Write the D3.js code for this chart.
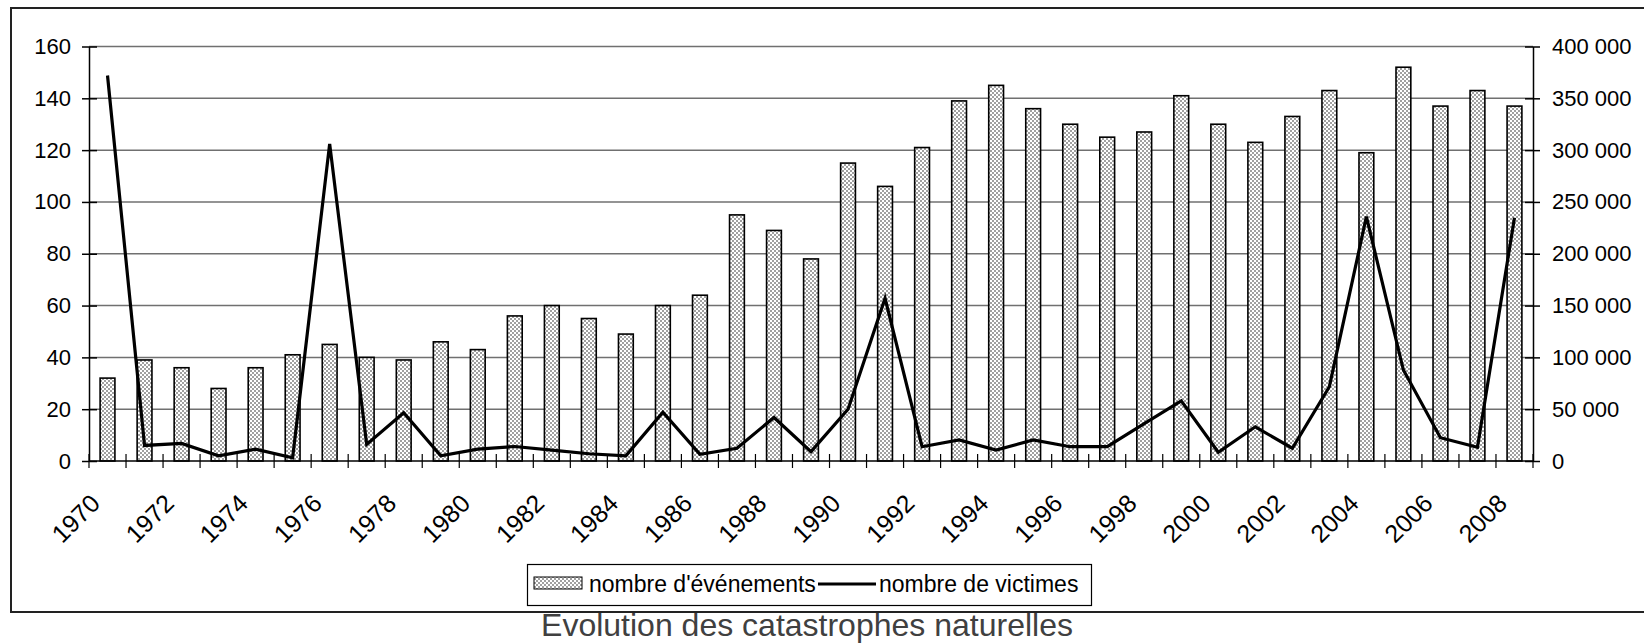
<!DOCTYPE html>
<html>
<head>
<meta charset="utf-8">
<script src="https://cdn.jsdelivr.net/npm/d3@7"></script>
<style>
  body { margin: 0; background: #fff; }
  svg { display: block; font-family: "Liberation Sans", Arial, sans-serif; }
</style>
</head>
<body>
<div id="chart"></div>
<script>
// Data
const years = d3.range(1970, 2009);
const events = [32, 39, 36, 28, 36, 41, 45, 40, 39, 46,
                43, 56, 60, 55, 49, 60, 64, 95, 89, 78,
                115, 106, 121, 139, 145, 136, 130, 125, 127, 141,
                130, 123, 133, 143, 119, 152, 137, 143, 137];
const victims = [372000, 15000, 17000, 5000, 11500, 3200, 306000, 16000, 46500, 5000,
                 11500, 14000, 10500, 7000, 5000, 47000, 6500, 12300, 42000, 9000,
                 50000, 157000, 13800, 20300, 10600, 20300, 13800, 13800, 36000, 58000,
                 8400, 33000, 12300, 71700, 235800, 87800, 22500, 13200, 234800];
const leftTicks = d3.range(0, 161, 20);
const rightTicks = d3.range(0, 400001, 50000);
const legendLabels = ["nombre d'événements", "nombre de victimes"];
const title = "Evolution des catastrophes naturelles";

const width = 1644, height = 644;
const plot = { left: 89, right: 1533, top: 46.5, bottom: 461 };

const svg = d3.select("#chart").append("svg")
    .attr("width", width)
    .attr("height", height);

// Checkered fill for the bars
const defs = svg.append("defs");
const pat = defs.append("pattern")
    .attr("id", "checker")
    .attr("width", 4).attr("height", 4)
    .attr("patternUnits", "userSpaceOnUse");
pat.append("rect").attr("width", 4).attr("height", 4).attr("fill", "#fff");
pat.append("rect").attr("width", 2).attr("height", 2).attr("fill", "#a0a0a0");
pat.append("rect").attr("x", 2).attr("y", 2).attr("width", 2).attr("height", 2).attr("fill", "#a0a0a0");

// Outer frame
svg.append("rect")
    .attr("x", 11).attr("y", 8)
    .attr("width", 1660).attr("height", 604)
    .attr("fill", "none").attr("stroke", "#222").attr("stroke-width", 2);

const x = d3.scaleBand()
    .domain(years)
    .range([plot.left, plot.right])
    .paddingInner(0.6)
    .paddingOuter(0.3);
const yLeft = d3.scaleLinear().domain([0, 160]).range([plot.bottom, plot.top]);
const yRight = d3.scaleLinear().domain([0, 400000]).range([plot.bottom, plot.top]);

const fmt = d3.formatLocale({ decimal: ",", thousands: "\u00a0", grouping: [3], currency: ["", " €"] }).format(",d");

// Gridlines
svg.append("g")
    .selectAll("line")
    .data(leftTicks.filter(d => d > 0))
    .join("line")
    .attr("x1", plot.left).attr("x2", plot.right)
    .attr("y1", d => yLeft(d)).attr("y2", d => yLeft(d))
    .attr("stroke", "#707070").attr("stroke-width", 1.5);

// Bars
svg.append("g")
    .selectAll("rect")
    .data(events)
    .join("rect")
    .attr("x", (d, i) => x(years[i]))
    .attr("y", d => yLeft(d))
    .attr("width", x.bandwidth())
    .attr("height", d => yLeft(0) - yLeft(d))
    .attr("fill", "url(#checker)")
    .attr("stroke", "#000").attr("stroke-width", 1.6);

// Left axis
const leftAxis = svg.append("g")
    .attr("transform", `translate(${plot.left},0)`)
    .call(d3.axisLeft(yLeft).tickValues(leftTicks).tickSize(0).tickPadding(18))
    .attr("font-family", null).attr("font-size", null);
leftAxis.select(".domain").attr("stroke", "#000").attr("stroke-width", 1.5);
leftAxis.selectAll(".tick line").remove();
leftAxis.selectAll(".tick").append("line")
    .attr("x1", -7).attr("x2", 8).attr("stroke", "#000").attr("stroke-width", 1.5);
leftAxis.selectAll("text").attr("font-size", 22).attr("fill", "#000");

// Right axis
const rightAxis = svg.append("g")
    .attr("transform", `translate(${plot.right},0)`)
    .call(d3.axisRight(yRight).tickValues(rightTicks).tickFormat(fmt).tickSize(0).tickPadding(19))
    .attr("font-family", null).attr("font-size", null);
rightAxis.select(".domain").attr("stroke", "#000").attr("stroke-width", 1.5);
rightAxis.selectAll(".tick line").remove();
rightAxis.selectAll(".tick").append("line")
    .attr("x1", -8).attr("x2", 7).attr("stroke", "#000").attr("stroke-width", 1.5);
rightAxis.selectAll("text").attr("font-size", 22).attr("fill", "#000");

// Bottom axis: ticks between categories, labels every two years
const step = x.step();
const bottom = svg.append("g").attr("transform", `translate(0,${plot.bottom})`);
bottom.append("line")
    .attr("x1", plot.left).attr("x2", plot.right)
    .attr("stroke", "#000").attr("stroke-width", 1.5);
bottom.selectAll("line.tk")
    .data(d3.range(years.length + 1))
    .join("line")
    .attr("class", "tk")
    .attr("x1", i => plot.left + i * step).attr("x2", i => plot.left + i * step)
    .attr("y1", -7).attr("y2", 7)
    .attr("stroke", "#000").attr("stroke-width", 1.2);
bottom.selectAll("text")
    .data(years.filter(y => (y - 1970) % 2 === 0))
    .join("text")
    .attr("transform", d => `translate(${x(d) + x.bandwidth() / 2 - 6},44) rotate(-45)`)
    .attr("text-anchor", "end")
    .attr("font-size", 25)
    .text(d => d);

// Victims line on the right axis
const line = d3.line()
    .x((d, i) => x(years[i]) + x.bandwidth() / 2)
    .y(d => yRight(d));
svg.append("path")
    .datum(victims)
    .attr("d", line)
    .attr("fill", "none")
    .attr("stroke", "#000")
    .attr("stroke-width", 3.2)
    .attr("stroke-linejoin", "miter");

// Legend
const lg = svg.append("g");
lg.append("rect")
    .attr("x", 527.5).attr("y", 564.5).attr("width", 564).attr("height", 41)
    .attr("fill", "#fff").attr("stroke", "#000").attr("stroke-width", 1.2);
lg.append("rect")
    .attr("x", 534).attr("y", 577).attr("width", 48).attr("height", 12)
    .attr("fill", "url(#checker)").attr("stroke", "#000").attr("stroke-width", 1);
lg.append("text")
    .attr("x", 589).attr("y", 584)
    .attr("dominant-baseline", "central")
    .attr("font-size", 23)
    .text(legendLabels[0]);
lg.append("line")
    .attr("x1", 818).attr("x2", 876).attr("y1", 584).attr("y2", 584)
    .attr("stroke", "#000").attr("stroke-width", 3);
lg.append("text")
    .attr("x", 879).attr("y", 584)
    .attr("dominant-baseline", "central")
    .attr("font-size", 23)
    .text(legendLabels[1]);

// Caption below the frame
svg.append("text")
    .attr("x", 807).attr("y", 636)
    .attr("text-anchor", "middle")
    .attr("font-size", 32)
    .attr("fill", "#404040")
    .text(title);
</script>
</body>
</html>
